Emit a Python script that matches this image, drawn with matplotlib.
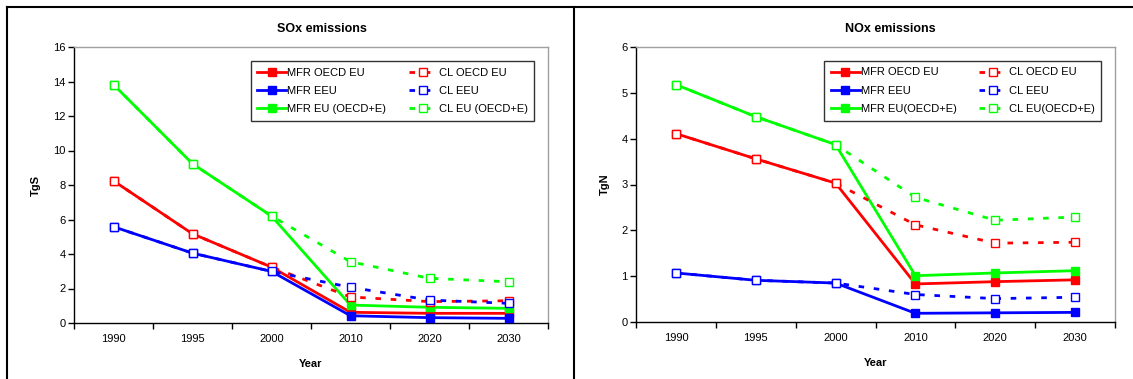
#%%
# imports
import numpy as np
import matplotlib
matplotlib.use('Agg')
import matplotlib.pyplot as plt
from matplotlib.lines import Line2D

plt.rcParams['font.family'] = ['Liberation Sans', 'DejaVu Sans']

#%%
# data
years = ['1990', '1995', '2000', '2010', '2020', '2030']

# SOx (TgS)
sox_mfr_oecd = [8.24, 5.17, 3.24, 0.62, 0.56, 0.56]
sox_cl_oecd = [8.24, 5.17, 3.24, 1.51, 1.24, 1.29]
sox_mfr_eeu = [5.58, 4.05, 2.99, 0.42, 0.31, 0.27]
sox_cl_eeu = [5.58, 4.05, 2.99, 2.07, 1.33, 1.14]
sox_mfr_eu = [13.82, 9.23, 6.20, 1.04, 0.91, 0.85]
sox_cl_eu = [13.82, 9.23, 6.20, 3.55, 2.59, 2.39]

# NOx (TgN)
nox_mfr_oecd = [4.11, 3.56, 3.03, 0.83, 0.88, 0.92]
nox_cl_oecd = [4.11, 3.56, 3.03, 2.12, 1.72, 1.74]
nox_mfr_eeu = [1.07, 0.91, 0.85, 0.19, 0.20, 0.21]
nox_cl_eeu = [1.07, 0.91, 0.85, 0.60, 0.51, 0.54]
nox_mfr_eu = [5.18, 4.48, 3.87, 1.01, 1.07, 1.12]
nox_cl_eu = [5.18, 4.48, 3.87, 2.72, 2.22, 2.29]

sox_labels = ['OECD EU', 'EEU', 'EU (OECD+E)']
nox_labels = ['OECD EU', 'EEU', 'EU(OECD+E)']
colors = ['#FF0000', '#0000FF', '#00FF00']

#%%
# figure
fig = plt.figure(figsize=(11.33, 3.79), dpi=100)
W, H = 1133, 379


def px_axes(left, right, top, bottom):
    return fig.add_axes([left / W, 1 - bottom / H, (right - left) / W, (bottom - top) / H])


def draw_panel(ax, mfr, cl, labels, ymax, ystep, title, ylabel, title_x, ylab_x):
    x = np.arange(len(years))
    handles_mfr = []
    handles_cl = []
    # solid MFR lines with filled markers
    for vals, c, lab in zip(mfr, colors, labels):
        h, = ax.plot(x, vals, color=c, lw=2, marker='s', ms=5.5,
                     mfc=c, mec=c, label='MFR ' + lab, zorder=3)
        handles_mfr.append(h)
    # dashed CL lines with open markers
    for vals, c, lab in zip(cl, colors, labels):
        h, = ax.plot(x, vals, color=c, lw=2, ls=(0, (2, 3.5)), marker='s', ms=5.5,
                     mfc='white', mec=c, mew=1, label='CL ' + lab, zorder=4)
        handles_cl.append(h)

    ax.set_xlim(-0.5, len(years) - 0.5)
    ax.set_ylim(0, ymax)
    ax.set_yticks(np.arange(0, ymax + 0.01, ystep))
    ax.set_xticks(np.arange(-0.5, len(years), 1))
    ax.set_xticklabels([])
    ax.set_xticks(x, minor=True)
    ax.set_xticklabels(years, minor=True)
    ax.tick_params(axis='x', which='major', direction='out', length=4, width=1)
    ax.tick_params(axis='x', which='minor', length=0, pad=8, labelsize=8)
    ax.tick_params(axis='y', direction='out', length=4, width=1, pad=2, labelsize=8)

    for s in ['top', 'right']:
        ax.spines[s].set_color('#A0A0A0')
        ax.spines[s].set_linewidth(1)
    for s in ['left', 'bottom']:
        ax.spines[s].set_color('black')
        ax.spines[s].set_linewidth(1)

    ax.set_ylabel(ylabel, fontsize=8, fontweight='bold')
    ax.yaxis.set_label_coords(ylab_x, 0.5)
    ax.set_xlabel('Year', fontsize=8, fontweight='bold')
    ax.xaxis.set_label_coords(0.5, -0.13)

    leg = ax.legend(handles_mfr + handles_cl, [h.get_label() for h in handles_mfr + handles_cl],
                    ncol=2, loc='upper right', bbox_to_anchor=(0.983, 0.97),
                    fontsize=8, frameon=True, fancybox=False, edgecolor='black',
                    handlelength=2.6, handletextpad=0.1, columnspacing=2.0,
                    labelspacing=0.75, borderpad=0.6)
    leg.get_frame().set_linewidth(1)

    fig.text(title_x / W, 1 - 29 / H, title, ha='center', va='center',
             fontsize=9, fontweight='bold')


ax1 = px_axes(74, 548, 47, 323)
draw_panel(ax1, [sox_mfr_oecd, sox_mfr_eeu, sox_mfr_eu],
           [sox_cl_oecd, sox_cl_eeu, sox_cl_eu], sox_labels,
           16, 2, 'SOx emissions', 'TgS', 322, (41 - 74) / 474)

ax2 = px_axes(636, 1115, 47, 322)
draw_panel(ax2, [nox_mfr_oecd, nox_mfr_eeu, nox_mfr_eu],
           [nox_cl_oecd, nox_cl_eeu, nox_cl_eu], nox_labels,
           6, 1, 'NOx emissions', 'TgN', 890, (609.5 - 636) / 479)

# chart borders
fr_kw = dict(color='black', lw=1.5, transform=fig.transFigure, clip_on=False)
fig.add_artist(Line2D([6.5 / W, 1.01], [1 - 7.3 / H, 1 - 7.3 / H], **fr_kw))
fig.add_artist(Line2D([6.5 / W, 6.5 / W], [-0.01, 1 - 7.3 / H], **fr_kw))
fig.add_artist(Line2D([574 / W, 574 / W], [-0.01, 1 - 7.3 / H], **fr_kw))

fig.savefig('out.png', dpi=100)
